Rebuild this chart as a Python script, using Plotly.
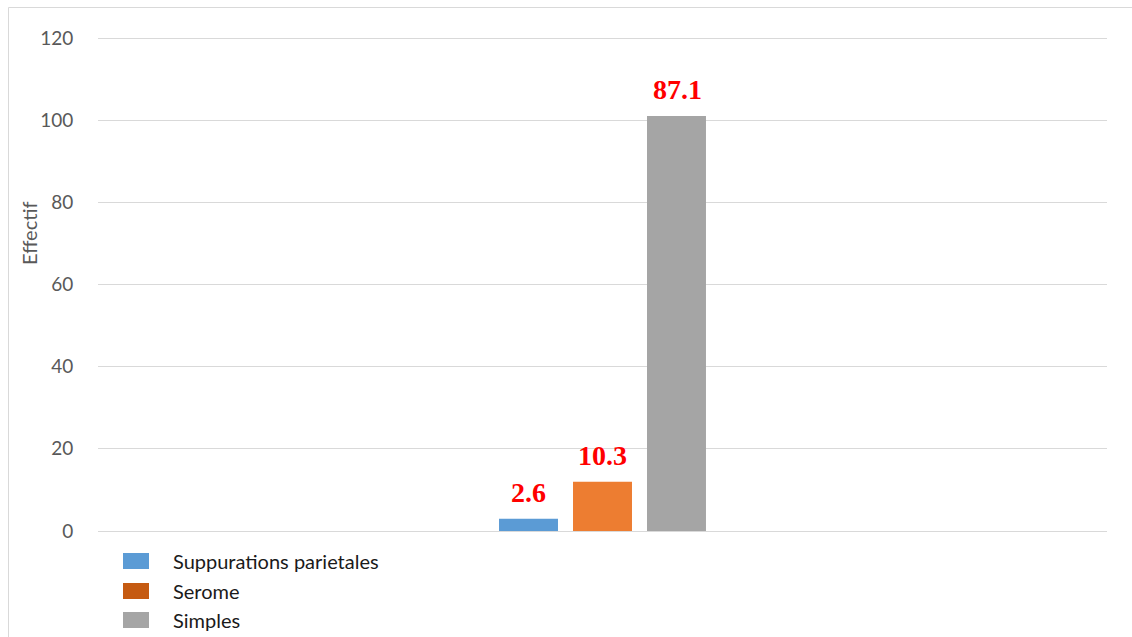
import plotly.graph_objects as go

# Effectifs par type d'évolution post-opératoire
category = ["Suites"]
series_names = ["Suppurations parietales", "Serome", "Simples"]
counts = [3, 12, 101]
bar_colors = ["#5B9BD5", "#ED7D31", "#A5A5A5"]
legend_colors = ["#5B9BD5", "#C55A11", "#A5A5A5"]
y_ticks = [0, 20, 40, 60, 80, 100, 120]

total = sum(counts)
percents = [round(c / total * 100, 1) for c in counts]

fig = go.Figure()
for name, val, col in zip(series_names, counts, bar_colors):
    fig.add_trace(go.Bar(
        x=category, y=[val], name=name,
        marker=dict(color=col, line=dict(width=0)),
        showlegend=False,
    ))

# Percentage labels above each bar
slot_px = 74.5
for i, (val, pct) in enumerate(zip(counts, percents)):
    fig.add_annotation(
        x=category[0], y=val, xref="x", yref="y",
        text=f"{pct}", showarrow=False,
        xshift=(i - 1) * slot_px, yshift=9, yanchor="bottom",
        font=dict(family="Liberation Serif", size=28, color="#FF0000", weight="bold"),
    )

# Plot area geometry (pixels); a little headroom keeps the 120 gridline visible
plot_l, plot_r, plot_t, plot_b = 98, 1107, 36, 531
y_top = 120.5
pw, ph = plot_r - plot_l, plot_b - plot_t
def px_x(p):
    return (p - plot_l) / pw
def px_y(p):
    return (plot_b - p) / ph

# Legend drawn as swatches and labels under the axis
legend_rows = [561, 591, 620]
for name, col, yc in zip(series_names, legend_colors, legend_rows):
    fig.add_shape(type="rect", xref="paper", yref="paper",
                  x0=px_x(123), x1=px_x(149), y0=px_y(yc + 8), y1=px_y(yc - 8),
                  fillcolor=col, line=dict(width=0))
    fig.add_annotation(x=px_x(171), y=px_y(yc), xref="paper", yref="paper",
                       text=name, showarrow=False, xanchor="left", yanchor="middle",
                       font=dict(family="Lato", size=20, color="#1A1A1A"))

# Axis title
fig.add_annotation(x=px_x(29), y=px_y(233), xref="paper", yref="paper",
                   text="Effectif", textangle=-90, showarrow=False,
                   xanchor="center", yanchor="middle",
                   font=dict(family="Lato", size=20, color="#595959"))

# Outer chart frame
fig.add_shape(type="rect", xref="paper", yref="paper", layer="below",
              x0=px_x(8.5), x1=px_x(1150), y0=px_y(660), y1=px_y(7.5),
              line=dict(color="#D9D9D9", width=1), fillcolor="rgba(0,0,0,0)")

fig.update_layout(
    width=1132, height=637,
    margin=dict(l=plot_l, r=1132 - plot_r, t=plot_t, b=637 - plot_b),
    paper_bgcolor="white", plot_bgcolor="white",
    barmode="group", bargap=0.78, bargroupgap=0.203,
    font=dict(family="Lato", color="#595959"),
)
fig.update_xaxes(showticklabels=False, showgrid=False, zeroline=False,
                 showline=False, range=[-0.5, 0.5])
fig.update_yaxes(range=[0, y_top], tickvals=y_ticks, showgrid=True,
                 gridcolor="#D9D9D9", gridwidth=1, zeroline=True,
                 zerolinecolor="#D9D9D9", zerolinewidth=1, showline=False,
                 ticks="outside", ticklen=20, tickcolor="rgba(0,0,0,0)",
                 tickfont=dict(family="Lato", size=19, color="#595959"))

fig.write_html("out.html")
